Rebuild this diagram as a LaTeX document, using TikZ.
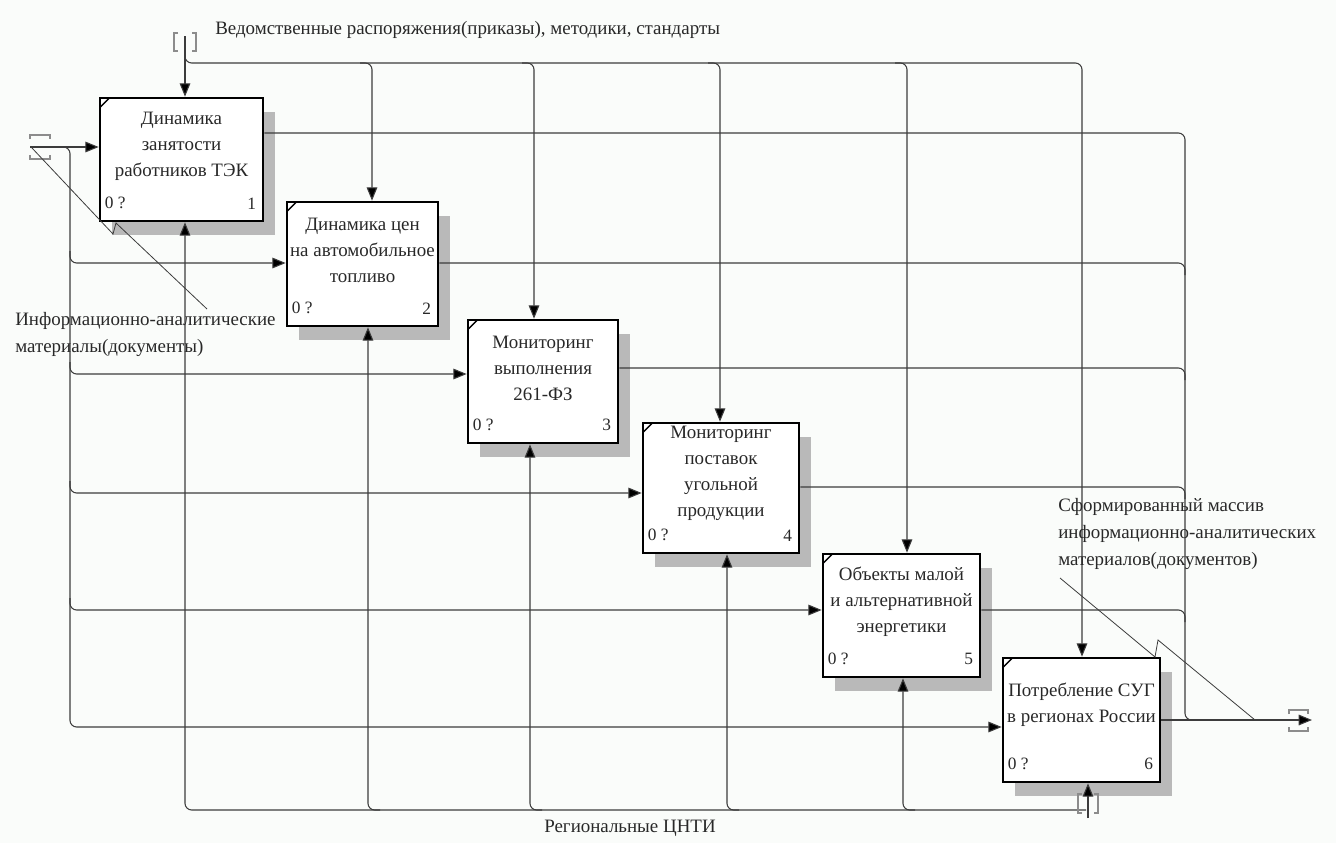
\documentclass[tikz,border=0pt]{standalone}
\usepackage{fontspec}
\setmainfont{Liberation Serif}
\usetikzlibrary{arrows.meta,shadows}
\definecolor{bgtint}{RGB}{250,252,250}
\definecolor{linegray}{RGB}{60,60,60}
\definecolor{shadowgray}{RGB}{185,185,185}
\definecolor{tunnelgray}{RGB}{140,140,140}
\definecolor{inkgray}{RGB}{40,40,40}
\begin{document}
\begin{tikzpicture}[x=0.75pt,y=-0.75pt,
  line/.style={draw=linegray, line width=0.8pt},
  arr/.style={line, -{Triangle[length=10pt,width=8pt,fill=black]}},
  tunnel/.style={draw=tunnelgray, line width=0.8pt},
  fnbox/.style={draw=black, line width=2pt, fill=white, inner sep=0pt,
    drop shadow={shadow xshift=9pt, shadow yshift=-10.5pt, fill=shadowgray, opacity=1}},
  fntext/.style={align=center, inner sep=0pt, text=inkgray,
    font=\fontsize{14.2}{19.5}\selectfont},
  cornerno/.style={inner sep=0pt, text=inkgray, font=\fontsize{13}{15}\selectfont},
  lbl/.style={inner sep=0pt, text=inkgray, font=\fontsize{14.2}{20.5}\selectfont}
]
\fill[bgtint] (0,0) rectangle (1336,843);
\useasboundingbox (0,0) rectangle (1336,843);

% function boxes
\node[fnbox, minimum width=122.25pt, minimum height=92.25pt] (b1) at (181.5,159.5) {};
\node[fnbox, minimum width=113.25pt, minimum height=93pt]    (b2) at (362.5,264) {};
\node[fnbox, minimum width=112.5pt,  minimum height=92.25pt] (b3) at (543,381.5) {};
\node[fnbox, minimum width=117pt,    minimum height=97.5pt]  (b4) at (721,488) {};
\node[fnbox, minimum width=117.75pt, minimum height=92.25pt] (b5) at (901.5,615.5) {};
\node[fnbox, minimum width=117.75pt, minimum height=93pt]    (b6) at (1081.5,720) {};

% box captions
\node[fntext] (t1) at (181.5,146) {Динамика\\занятости\\работников ТЭК};
\node[fntext] (t2) at (362.5,250) {Динамика цен\\на автомобильное\\топливо};
\node[fntext] (t3) at (543,368)   {Мониторинг\\выполнения\\261-ФЗ};
\node[fntext] (t4) at (721,473)   {Мониторинг\\поставок\\угольной\\продукции};
\node[fntext] (t5) at (901.5,602) {Объекты малой\\и альтернативной\\энергетики};
\node[fntext] (t6) at (1081.5,705) {Потребление СУГ\\в регионах России};

% corner marks and numbers
\foreach \b/\n in {b1/1,b2/2,b3/3,b4/4,b5/5,b6/6}{
  \draw[black, line width=1pt] ([shift={(1,11)}]\b.north west) -- ([shift={(11,1)}]\b.north west);
  \node[cornerno, anchor=west] (\b z) at ([shift={(6,-19)}]\b.south west) {0 ?};
  \node[cornerno, anchor=east] (\b n) at ([shift={(-8,-19)}]\b.south east) {\n};
}

% controls
\coordinate (csrc) at (185,36);
\coordinate (c2) at (372,63);
\coordinate (c3) at (534,63);
\coordinate (c4) at (720,63);
\coordinate (c5) at (907,63);
\coordinate (c6) at (1082,63);
\draw[arr] (csrc) -- (csrc |- b1.north);
\draw[arr, rounded corners=5] (185,50) |- (c6) -- (c6 |- b6.north);
\draw[arr, rounded corners=5] (360,63) -| (c2 |- b2.north);
\draw[arr, rounded corners=5] (522,63) -| (c3 |- b3.north);
\draw[arr, rounded corners=5] (708,63) -| (c4 |- b4.north);
\draw[arr, rounded corners=5] (895,63) -| (c5 |- b5.north);

% inputs
\coordinate (isrc) at (30,147);
\coordinate (i2) at (70,263);
\coordinate (i3) at (70,374);
\coordinate (i4) at (70,493);
\coordinate (i5) at (70,610);
\coordinate (i6) at (70,727);
\draw[arr] (isrc) -- (isrc -| b1.west);
\draw[arr, rounded corners=5] (60,147) -| (i6) -- (i6 -| b6.west);
\draw[arr, rounded corners=5] (70,251) |- (i2 -| b2.west);
\draw[arr, rounded corners=5] (70,362) |- (i3 -| b3.west);
\draw[arr, rounded corners=5] (70,481) |- (i4 -| b4.west);
\draw[arr, rounded corners=5] (70,598) |- (i5 -| b5.west);

% outputs
\coordinate (o1) at (1185,133);
\coordinate (o2) at (1185,263);
\coordinate (o3) at (1185,368);
\coordinate (o4) at (1185,487);
\coordinate (o5) at (1185,610);
\coordinate (ojoin) at (1185,720);
\coordinate (osink) at (1312,720);
\draw[line, rounded corners=5] (o1 -| b1.east) -| (ojoin) -- (1197,720);
\draw[line, rounded corners=5] (o2 -| b2.east) -| (1185,275);
\draw[line, rounded corners=5] (o3 -| b3.east) -| (1185,380);
\draw[line, rounded corners=5] (o4 -| b4.east) -| (1185,499);
\draw[line, rounded corners=5] (o5 -| b5.east) -| (1185,622);
\draw[arr] (osink -| b6.east) -- (osink);

% mechanisms
\coordinate (msrc) at (1088,818);
\coordinate (m1) at (185,810);
\coordinate (m2) at (368,810);
\coordinate (m3) at (530,810);
\coordinate (m4) at (727,810);
\coordinate (m5) at (903,810);
\draw[arr] (msrc) -- (msrc |- b6.south);
\draw[arr, rounded corners=5] (1086,810) -| (m1 |- b1.south);
\draw[arr, rounded corners=5] (380,810) -| (m2 |- b2.south);
\draw[arr, rounded corners=5] (542,810) -| (m3 |- b3.south);
\draw[arr, rounded corners=5] (739,810) -| (m4 |- b4.south);
\draw[arr, rounded corners=5] (915,810) -| (m5 |- b5.south);

% tunnel brackets
\draw[tunnel] (178,33) -- (174,33) -- (174,51) -- (178,51);
\draw[tunnel] (192,33) -- (196,33) -- (196,51) -- (192,51);
\draw[tunnel] (30,139) -- (30,135) -- (50,135) -- (50,139);
\draw[tunnel] (30,155) -- (30,159) -- (50,159) -- (50,155);
\draw[tunnel] (1289,714) -- (1289,710) -- (1308,710) -- (1308,714);
\draw[tunnel] (1289,727) -- (1289,731) -- (1308,731) -- (1308,727);
\draw[tunnel] (1082,794) -- (1078,794) -- (1078,813) -- (1082,813);
\draw[tunnel] (1094,794) -- (1098,794) -- (1098,813) -- (1094,813);

% arrow labels
\node[lbl, anchor=west] (lctl) at (215,30) {Ведомственные распоряжения(приказы), методики, стандарты};
\node[lbl, anchor=north west, align=left] (linp) at (15,312) {Информационно-аналитические\\материалы(документы)};
\node[lbl, anchor=west, align=left] (lout) at (1058,534) {Сформированный массив\\информационно-аналитических\\материалов(документов)};
\node[lbl] (lmech) at (630,828) {Региональные ЦНТИ};

% squiggles tying labels to arrows
\draw[line, line width=0.6pt] (207,309) -- (116,223) -- (113,234) -- (32,148);
\draw[line, line width=0.6pt] (1060,578) -- (1155,657) -- (1158,640) -- (1255,720);
\end{tikzpicture}
\end{document}
